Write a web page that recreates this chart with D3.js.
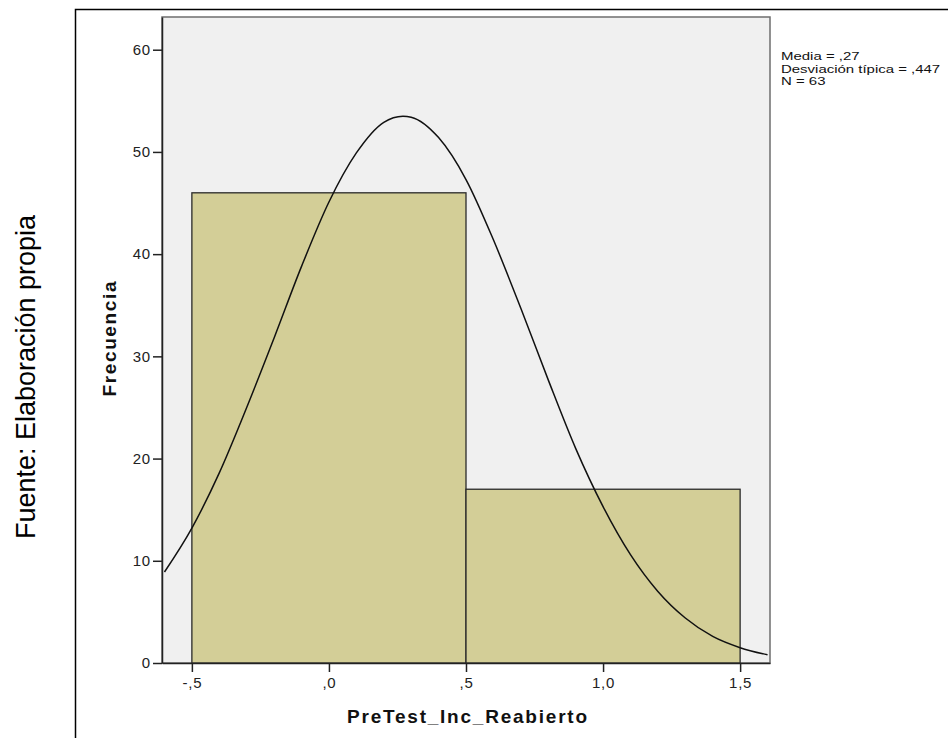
<!DOCTYPE html>
<html>
<head>
<meta charset="utf-8">
<script src="https://cdn.jsdelivr.net/npm/d3@7"></script>
<style>
  body { margin: 0; background: #fff; }
  text { font-family: "Liberation Sans", Arial, sans-serif; }
</style>
</head>
<body>
<svg id="chart" width="948" height="738"></svg>
<script>
/////// Data

var binStart = [-0.5, 0.5];
var binEnd = [0.5, 1.5];
var frequency = [46, 17];

var xTicks = [-0.5, 0, 0.5, 1, 1.5];
var xTickLabels = ['-,5', ',0', ',5', '1,0', '1,5'];
var yTicks = [0, 10, 20, 30, 40, 50, 60];

// normal curve
var curveX = [-0.6, -0.5, -0.4, -0.3, -0.2, -0.1, 0, 0.1, 0.2, 0.27, 0.3, 0.4, 0.5,
              0.6, 0.7, 0.8, 0.9, 1.0, 1.1, 1.2, 1.3, 1.4, 1.5, 1.6];
var curveY = [8.9, 13.2, 18.6, 25.0, 31.8, 38.8, 45.1, 49.9, 52.9, 53.5, 53.4, 51.4, 47.3,
              41.4, 34.7, 27.7, 21.0, 15.3, 10.6, 7.0, 4.4, 2.6, 1.5, 0.8];

var statLines = ['Media = ,27', 'Desviación típica = ,447', 'N = 63'];

/////// Layout

var svg = d3.select('#chart');
var plot = { left: 162, top: 17, right: 770, bottom: 663 };

var x = d3.scaleLinear()
    .domain([-0.609, 1.609])
    .range([plot.left, plot.right]);

var y = d3.scaleLinear()
    .domain([0, 63.2])
    .range([plot.bottom, plot.top]);

// outer frame, runs off the page right and bottom
svg.append('rect')
    .attr('x', 75.5)
    .attr('y', 9.5)
    .attr('width', 900)
    .attr('height', 800)
    .attr('fill', 'none')
    .attr('stroke', '#000')
    .attr('stroke-width', 1.5);

svg.append('rect')
    .attr('x', plot.left)
    .attr('y', plot.top)
    .attr('width', plot.right - plot.left)
    .attr('height', plot.bottom - plot.top)
    .attr('fill', '#f0f0f0')
    .attr('stroke', '#6e6e6e')
    .attr('stroke-width', 1.5);

svg.append('clipPath')
    .attr('id', 'clip')
  .append('rect')
    .attr('x', plot.left)
    .attr('y', plot.top)
    .attr('width', plot.right - plot.left)
    .attr('height', plot.bottom - plot.top);

//// Bars

svg.append('g')
  .selectAll('rect')
  .data(frequency)
  .join('rect')
    .attr('x', function (d, i) { return x(binStart[i]); })
    .attr('y', function (d) { return y(d); })
    .attr('width', function (d, i) { return x(binEnd[i]) - x(binStart[i]); })
    .attr('height', function (d) { return y(0) - y(d); })
    .attr('fill', '#d3ce97')
    .attr('stroke', '#2a2a2a')
    .attr('stroke-width', 1.3);

//// Normal curve

var line = d3.line()
    .x(function (d, i) { return x(curveX[i]); })
    .y(function (d) { return y(d); })
    .curve(d3.curveMonotoneX);

svg.append('path')
    .attr('clip-path', 'url(#clip)')
    .attr('d', line(curveY))
    .attr('fill', 'none')
    .attr('stroke', '#111')
    .attr('stroke-width', 1.5);

//// Axes

var yAxis = svg.append('g')
    .attr('transform', 'translate(' + plot.left + ',0)')
    .call(d3.axisLeft(y).tickValues(yTicks).tickSize(9).tickSizeOuter(0).tickPadding(2)
      .tickFormat(d3.format('d')));

var xAxis = svg.append('g')
    .attr('transform', 'translate(0,' + plot.bottom + ')')
    .call(d3.axisBottom(x).tickValues(xTicks).tickSize(9).tickSizeOuter(0).tickPadding(5)
      .tickFormat(function (d, i) { return xTickLabels[i]; }));

[yAxis, xAxis].forEach(function (ax) {
  ax.select('.domain').attr('stroke', '#222').attr('stroke-width', 1.5);
  ax.selectAll('.tick line').attr('stroke', '#222').attr('stroke-width', 1.5);
  ax.selectAll('.tick text')
      .attr('fill', '#222')
      .style('font-size', '15px')
      .style('letter-spacing', '0.8px')
      .style('font-family', '"Liberation Sans", Arial, sans-serif');
});

//// Titles

svg.append('text')
    .attr('x', 467)
    .attr('y', 723)
    .attr('text-anchor', 'middle')
    .attr('textLength', 240)
    .attr('lengthAdjust', 'spacing')
    .style('font-size', '19px')
    .style('font-weight', 'bold')
    .attr('fill', '#111')
    .text('PreTest_Inc_Reabierto');

svg.append('text')
    .attr('transform', 'translate(116,339) rotate(-90)')
    .attr('text-anchor', 'middle')
    .attr('textLength', 115)
    .attr('lengthAdjust', 'spacing')
    .style('font-size', '19px')
    .style('font-weight', 'bold')
    .attr('fill', '#111')
    .text('Frecuencia');

svg.append('text')
    .attr('transform', 'translate(35,377) rotate(-90)')
    .attr('text-anchor', 'middle')
    .style('font-size', '27px')
    .attr('fill', '#000')
    .text('Fuente: Elaboración propia');

//// Stats box

svg.append('g')
    .attr('transform', 'translate(781,60) scale(1.36,1)')
  .selectAll('text')
  .data(statLines)
  .join('text')
    .attr('x', 0)
    .attr('y', function (d, i) { return i * 12.7; })
    .style('font-size', '11px')
    .attr('fill', '#111')
    .text(function (d) { return d; });
</script>
</body>
</html>
